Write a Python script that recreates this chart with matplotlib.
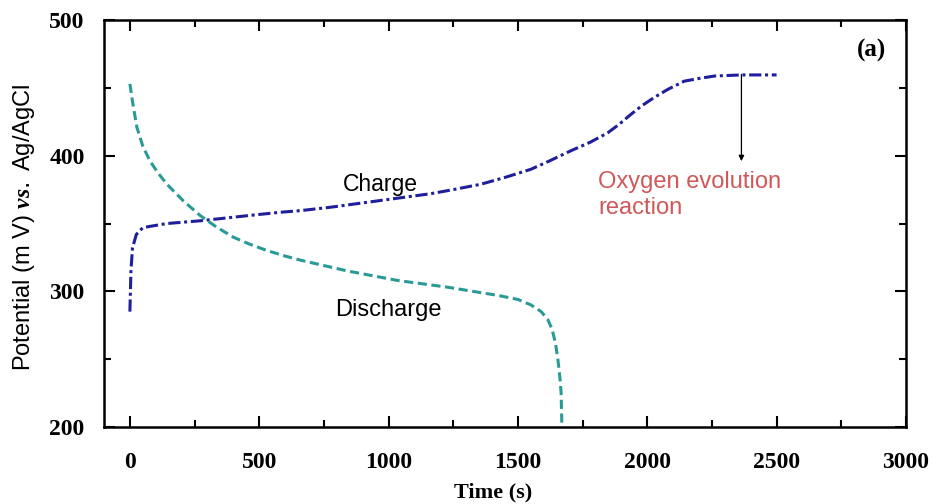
import matplotlib
matplotlib.use("Agg")
import matplotlib.pyplot as plt
from matplotlib.ticker import MultipleLocator

# Charge / discharge potential curves
charge_t = [0, 4, 10, 25, 50, 143, 271, 465, 581, 659, 775, 969, 1163, 1250,
            1357, 1450, 1550, 1620, 1705, 1780, 1848, 1890, 1938, 1980, 2027,
            2080, 2143, 2200, 2260, 2364, 2500]
charge_v = [285, 315, 332, 342, 347, 350, 352, 356, 358.3, 359.5, 362, 367,
            372, 375, 379, 384, 390, 396, 403.7, 410, 417, 423, 430.7, 437,
            443, 449, 455, 457, 458.8, 459.6, 459.6]

discharge_t = [0, 10, 27, 50, 78, 110, 143, 205, 271, 330, 399, 460, 531, 600,
               659, 841, 1035, 1229, 1422, 1500, 1550, 1590, 1616, 1632, 1645,
               1655, 1663, 1667, 1670]
discharge_v = [453, 440, 421, 407, 396, 387, 379, 367, 356, 348, 340, 335, 330,
               326, 323, 315, 308, 303, 297, 294, 290, 285, 279, 272, 262,
               249, 235, 225, 200]

# arrow pointing at the plateau
oer_t = 2364
oer_top = 460
oer_bottom = 396

plt.rcParams['mathtext.fontset'] = 'custom'
plt.rcParams['mathtext.it'] = 'Liberation Serif:italic:bold'

fig = plt.figure(figsize=(9.33, 5.04), dpi=100)
ax = fig.add_axes([0.1115, 0.153, 0.8595, 0.807])

ax.plot(charge_t, charge_v, color='#1f1f9c', lw=2.2,
        linestyle=(0, (4, 1.2, 1, 1.2)))
ax.plot(discharge_t, discharge_v, color='#2a9a96', lw=2.2,
        linestyle=(0, (3, 1.5)))

ax.set_xlim(-100, 3000)
ax.set_ylim(200, 500)
ax.xaxis.set_major_locator(MultipleLocator(500))
ax.xaxis.set_minor_locator(MultipleLocator(250))
ax.yaxis.set_major_locator(MultipleLocator(100))
ax.yaxis.set_minor_locator(MultipleLocator(50))
ax.tick_params(which='both', direction='in', top=True, right=True, width=1.5)
ax.tick_params(which='major', length=8)
ax.tick_params(which='minor', length=5)
ax.tick_params(axis='x', pad=18)
ax.tick_params(axis='y', pad=14)
for s in ax.spines.values():
    s.set_linewidth(1.8)

for lab in ax.get_xticklabels() + ax.get_yticklabels():
    lab.set_fontfamily('Liberation Serif')
    lab.set_fontweight('bold')
    lab.set_fontsize(17)

ax.set_xlabel('Time (s)', fontfamily='Liberation Serif', fontweight='bold',
              fontsize=16)
ax.xaxis.set_label_coords(0.485, -0.137)
ax.set_ylabel(r'Potential (m V) $vs.$ Ag/AgCl', fontfamily='Liberation Sans',
              fontsize=17)
ax.yaxis.set_label_coords(-0.084, 0.49)

ax.text(969, 379, 'Charge', fontfamily='Liberation Sans', fontsize=16.5,
        ha='center', va='center')
ax.text(1000, 286, 'Discharge', fontfamily='Liberation Sans', fontsize=17,
        ha='center', va='center')
ax.annotate('', xy=(oer_t, oer_bottom), xytext=(oer_t, oer_top),
            arrowprops=dict(arrowstyle='-|>', color='black', lw=0.9,
                            mutation_scale=8, shrinkA=0, shrinkB=0))
ax.text(1810, 389, 'Oxygen evolution\nreaction', fontfamily='Liberation Sans',
        fontsize=17, color='#d05858', ha='left', va='top', linespacing=1.25)
ax.text(2865, 478, '(a)', fontfamily='Liberation Serif', fontweight='bold',
        fontsize=18, ha='center', va='center')

fig.savefig('out.png', dpi=100)
